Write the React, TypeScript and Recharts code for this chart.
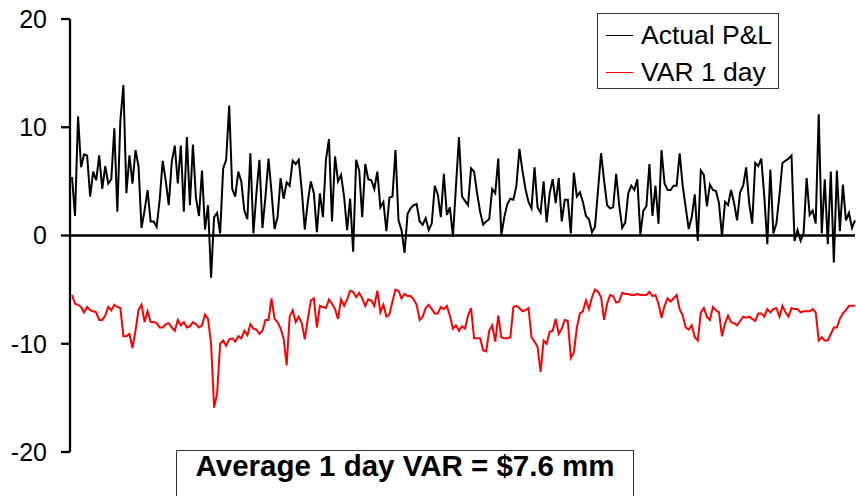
import React from 'react';
import { LineChart, Line, XAxis, YAxis, ReferenceLine } from 'recharts';

// daily actual P&L, $mm (left to right)
const pnl: number[] = [
  5.4, 1.8, 11.0, 6.3, 7.5, 7.4, 3.6, 5.9, 5.1, 7.4, 4.3, 6.4, 4.8, 5.2, 9.9, 2.2, 10.6, 13.9, 3.9, 7.4,
  4.8, 7.9, 6.4, 0.7, 2.3, 4.2, 1.3, 1.3, 0.8, 3.3, 6.9, 5.1, 2.8, 6.8, 8.3, 4.8, 8.3, 2.2, 9.1, 2.8, 8.4,
  3.5, 1.8, 6.0, 0.55, 2.8, -3.9, 1.7, 2.1, 0.2, 6.2, 7.0, 12.0, 4.3, 3.6, 5.9, 5.0, 2.3, 1.5, 7.6, 0.2,
  3.9, 7.0, 0.7, 3.6, 7.1, 4.0, 0.6, 1.7, 5.3, 3.4, 4.9, 4.6, 6.9, 6.6, 7.0, 4.2, 0.55, 3.1, 5.0, 3.9, 0.3, 3.9, 1.7,
  7.0, 8.9, 1.3, 7.3, 5.0, 5.6, 3.6, 0.5, 3.4, -1.5, 7.0, 6.0, 1.7, 6.6, 5.2, 5.1, 4.3, 5.9, 2.6, 3.1,
  0.4, 3.5, 3.6, 7.9, 1.4, 0.5, -1.6, 2.0, 2.5, 2.8, 2.9, 1.3, 1.0, 1.6, 0.5, 1.1, 4.6, 3.8, 1.7, 5.7, 1.9, 2.6, -0.1,
  4.5, 9.1, 3.6, 3.2, 2.8, 6.2, 5.9, 3.9, 2.2, 1.0, 1.3, 1.5, 4.3, 3.9, 7.1, 0.0, 1.7, 2.9, 3.4, 3.3,
  4.6, 8.0, 6.0, 4.3, 3.1, 2.5, 6.3, 2.6, 2.1, 5.0, 1.2, 3.9, 5.2, 3.0, 5.3, 1.3, 3.3, 3.3, 0.2, 5.8, 3.6, 4.0, 3.1,
  1.8, 1.5, 0.3, 0.8, 4.2, 7.6, 5.1, 2.8, 2.5, 2.6, 5.7, 2.8, 0.7, 1.2, 3.9, 4.6, 4.2, 5.2, 0.1, 2.3,
  2.7, 6.6, 1.8, 4.6, 1.1, 7.9, 4.8, 4.2, 4.2, 4.6, 4.6, 7.6, 4.6, 2.6, 0.6, 1.7, 3.8, -0.5, 6.0, 5.6, 2.7, 4.7, 4.2,
  4.1, 3.0, -0.1, 3.1, 2.8, 4.2, 3.0, 1.4, 4.0, 4.6, 6.3, 3.0, 1.1, 6.7, 6.4, 7.1, 3.6, -0.8, 6.1, 0.2,
  1.1, 3.7, 6.7, 6.9, 7.1, 7.4, -0.5, 0.5, -0.5, 0.2, 5.3, 1.9, 2.3, 1.1, 11.2, 0.2, 5.2, -0.8, 5.9, -2.5,
  6.0, 0.4, 4.7, 1.4, 2.1, 0.7, 1.4,
];

// 1 day VAR, shown as a negative number
const var1d: number[] = [
  -5.5, -6.3, -6.4, -6.6, -7.1, -6.6, -6.9, -7.0, -7.1, -7.8, -7.8, -7.4, -6.6, -6.9, -6.4, -6.6, -6.7, -9.3, -9.3, -9.1,
  -10.4, -8.8, -6.9, -6.4, -8.0, -7.0, -8.0, -8.0, -8.1, -8.5, -8.5, -8.2, -8.1, -8.5, -8.8, -7.8, -8.3, -8.0, -8.5, -8.4, -8.0,
  -8.2, -8.5, -8.3, -7.3, -7.7, -10.0, -15.9, -14.6, -10.0, -9.7, -10.2, -9.6, -9.5, -9.8, -9.3, -9.5, -8.8, -9.2, -8.2, -8.6,
  -8.7, -9.1, -8.8, -7.8, -7.8, -5.8, -7.7, -8.0, -8.6, -9.5, -12.0, -7.5, -6.9, -8.0, -7.5, -8.1, -9.6, -7.7, -6.0, -5.8, -8.5, -6.5, -6.6,
  -6.7, -5.9, -6.3, -6.8, -7.7, -5.9, -6.5, -5.9, -5.1, -5.2, -5.7, -5.3, -5.8, -6.5, -5.9, -6.0, -6.5, -5.1, -7.1, -6.4,
  -7.5, -7.3, -6.1, -5.0, -5.1, -5.8, -5.4, -5.6, -5.6, -5.9, -6.4, -7.8, -7.5, -6.7, -6.4, -6.8, -7.2, -7.2, -6.6, -6.8, -6.5, -7.4, -8.6,
  -8.3, -8.8, -8.4, -8.6, -7.4, -6.7, -9.5, -9.5, -9.5, -10.6, -10.7, -8.8, -8.3, -9.8, -7.4, -9.4, -9.5, -9.5, -9.4, -6.6,
  -6.5, -6.7, -7.0, -6.9, -6.7, -9.4, -9.8, -10.3, -12.6, -9.7, -10.0, -8.9, -8.8, -7.7, -9.1, -8.6, -7.8, -7.9, -11.3, -10.8, -8.5, -7.2, -7.0,
  -6.0, -6.8, -5.7, -5.0, -5.2, -5.7, -7.8, -6.3, -5.5, -5.6, -6.2, -6.1, -5.3, -5.4, -5.4, -5.5, -5.5, -5.4, -5.5, -5.5,
  -5.5, -5.2, -5.6, -5.5, -6.3, -7.6, -6.5, -5.8, -6.1, -5.8, -5.5, -6.8, -7.4, -8.5, -8.7, -8.3, -9.4, -9.7, -7.1, -6.7, -7.5, -7.8, -6.6,
  -6.9, -7.1, -9.3, -8.1, -7.4, -8.0, -8.1, -8.3, -7.9, -7.5, -7.6, -7.5, -7.7, -7.9, -7.2, -7.2, -7.5, -6.8, -7.1, -6.8,
  -6.7, -7.5, -6.5, -7.1, -7.5, -6.7, -6.8, -6.8, -7.1, -7.0, -7.0, -7.0, -6.8, -7.1, -9.7, -9.4, -9.7, -9.7, -9.1, -8.5,
  -8.5, -7.7, -7.2, -6.9, -6.5, -6.5, -6.5,
];

const yTicks = [-20, -10, 0, 10, 20];
const seriesNames = ['Actual P&L', 'VAR 1 day'];
const seriesColors = ['#000000', '#ff0000'];
const caption = 'Average 1 day VAR = $7.6 mm';

const data = pnl.map((v, i) => ({ day: i + 1, pnl: v, var1d: var1d[i] }));

const FONT = '"Liberation Sans", Arial, sans-serif';

export default function App() {
  return (
    <div style={{ position: 'absolute', left: 0, top: 0, width: 856, height: 496, background: '#fff', overflow: 'hidden', fontFamily: FONT }}>
      <LineChart width={856} height={496} data={data} margin={{ top: 19, right: 1, bottom: 44, left: 0 }}>
        <XAxis dataKey="day" hide padding={{ left: 2, right: 0 }} />
        <YAxis
          domain={[-20, 20]}
          ticks={yTicks}
          width={70}
          axisLine={{ stroke: '#000', strokeWidth: 2.3 }}
          tickLine={{ stroke: '#000', strokeWidth: 2.3 }}
          tickSize={9}
          tickMargin={14}
          tick={{ fill: '#000', fontSize: 25, fontFamily: FONT }}
        />
        <ReferenceLine y={0} stroke="#000" strokeWidth={2.3} />
        <Line dataKey="pnl" name={seriesNames[0]} stroke={seriesColors[0]} strokeWidth={2} dot={false} isAnimationActive={false} />
        <Line dataKey="var1d" name={seriesNames[1]} stroke={seriesColors[1]} strokeWidth={2} dot={false} isAnimationActive={false} />
      </LineChart>

      {/* legend box, top right */}
      <div style={{ position: 'absolute', left: 597, top: 13, width: 180, height: 74, border: '1px solid #333', background: '#fff' }}>
        {seriesNames.map((name, i) => (
          <div key={name} style={{ position: 'absolute', left: 8, top: 5 + i * 37, height: 32, display: 'flex', alignItems: 'center' }}>
            <span style={{ display: 'inline-block', width: 27, height: 0, borderTop: `1.5px solid ${seriesColors[i]}`, marginRight: 8 }} />
            <span style={{ fontSize: 26.5, color: '#000', whiteSpace: 'nowrap' }}>{name}</span>
          </div>
        ))}
      </div>

      {/* caption box, bottom */}
      <div style={{ position: 'absolute', left: 176, top: 450, width: 456, height: 60, border: '1px solid #333', background: '#fff' }}>
        <div style={{ position: 'absolute', left: 0, right: 0, top: -2, textAlign: 'center', fontWeight: 'bold', fontSize: 29.5, color: '#000', whiteSpace: 'nowrap' }}>
          {caption}
        </div>
      </div>
    </div>
  );
}
